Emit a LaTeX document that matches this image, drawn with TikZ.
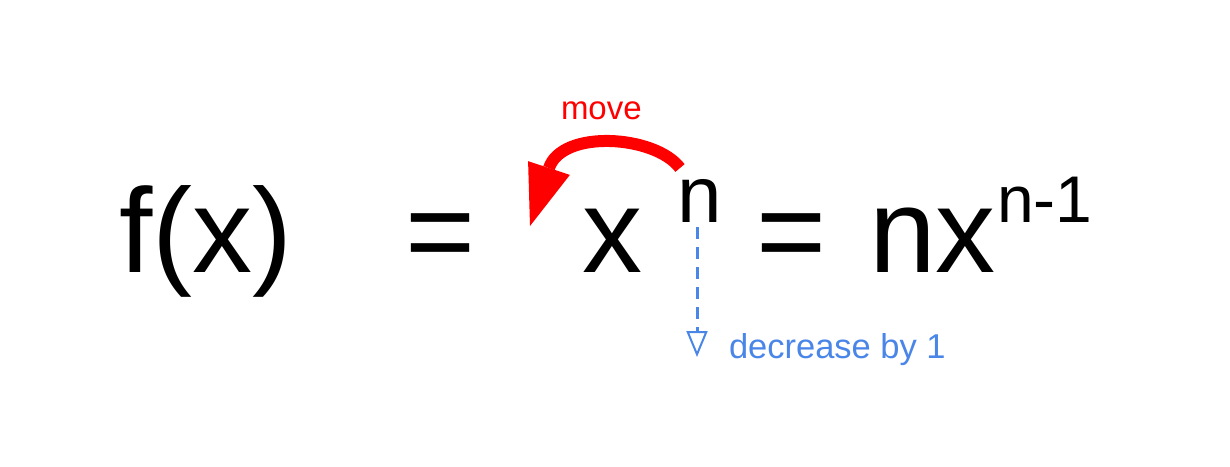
\documentclass[tikz,border=0pt]{standalone}
\usepackage{fontspec}
\setmainfont{Liberation Sans}
\usetikzlibrary{arrows.meta}
\definecolor{gblue}{HTML}{4A86E8}
\begin{document}
\begin{tikzpicture}[x=1pt,y=-1pt,
  txt/.style={inner sep=0pt,outer sep=0pt,anchor=base west},
  big/.style={txt,font=\fontsize{120}{140}\selectfont},
  mid/.style={txt,font=\fontsize{80}{96}\selectfont},
  sup/.style={txt,font=\fontsize{66}{80}\selectfont},
  movearrow/.style={draw=red,line width=12pt,line cap=butt,line join=round,
    -{Triangle[length=61pt,width=44pt,line width=0pt]}},
  decarrow/.style={draw=gblue,line width=3pt,dash pattern=on 12pt off 8pt,
    -{Triangle[open,length=26pt,width=21pt,line width=2pt]}}]
\useasboundingbox (0,0) rectangle (1230,466);
\node[big] (fx) at (119,272) {f(x)};
\node[big] (eq1) at (405,272) {=};
\node[big] (x) at (582,272) {x};
\node[mid] (n) at (677,222) {n};
\node[big] (eq2) at (756,272) {=};
\node[big] (nx) at (869,272) {nx};
\node[sup] (nm1) at (997,222) {n-1};
\node[txt,text=red,font=\fontsize{33}{38}\selectfont] (move) at (561,119) {move};
\node[txt,text=gblue,font=\fontsize{34.5}{40}\selectfont] (dec) at (729,358) {decrease by 1};
\coordinate (tail) at (680,168);
\coordinate (base) at (549,168);
\coordinate (head) at (530,226);
\draw[movearrow] (tail) .. controls (655,135) and (562,129) .. (base) -- (head);
\coordinate (dstart) at (697,227);
\coordinate (dend) at (697,357);
\draw[decarrow] (dstart) -- (dend);
\end{tikzpicture}
\end{document}
